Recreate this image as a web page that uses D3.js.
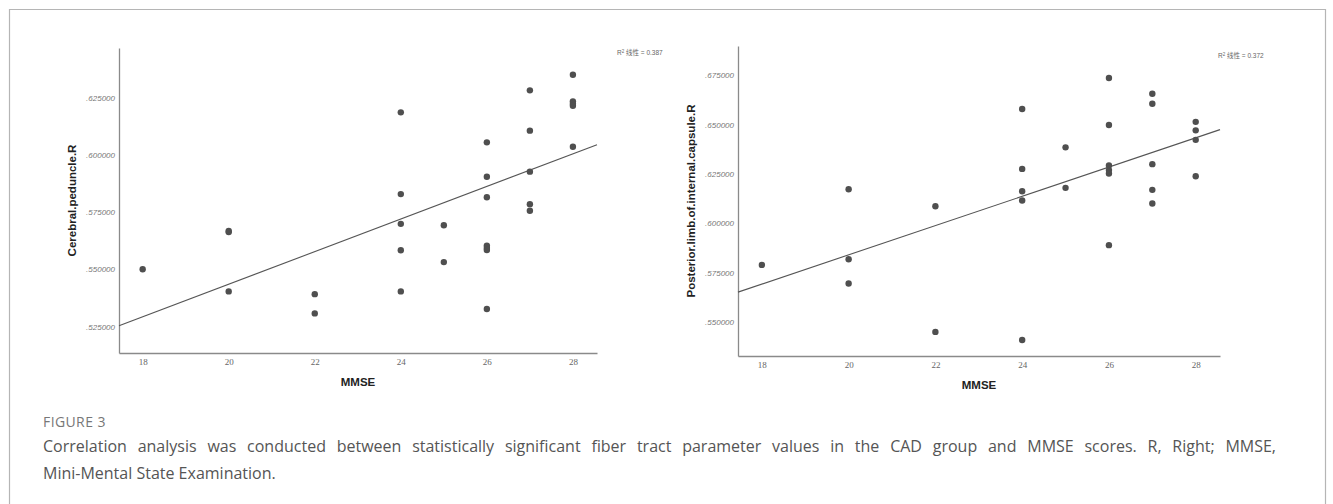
<!DOCTYPE html>
<html>
<head>
<meta charset="utf-8">
<script src="https://cdn.jsdelivr.net/npm/d3@7"></script>
<style>
  body { margin: 0; background: #fff; }
  svg { display: block; }
</style>
</head>
<body>
<div id="chart"></div>
<script>
// MMSE scores (x) and fibre tract values (y)
const mmseLeft = [18, 20, 20, 20, 22, 22, 24, 24, 24, 24, 24, 25, 25,
  26, 26, 26, 26, 26, 26, 26, 27, 27, 27, 27, 27, 28, 28, 28, 28, 28];
const cerebralPeduncleR = [0.5501, 0.5668, 0.5663, 0.5404, 0.5392, 0.5308,
  0.6186, 0.5829, 0.5699, 0.5584, 0.5404, 0.5693, 0.5532,
  0.6055, 0.5905, 0.5815, 0.5604, 0.5594, 0.5585, 0.5327,
  0.6282, 0.6106, 0.5927, 0.5785, 0.5756,
  0.6350, 0.6234, 0.6224, 0.6215, 0.6036];

const mmseRight = [18, 20, 20, 20, 22, 22, 24, 24, 24, 24, 24, 25, 25,
  26, 26, 26, 26, 26, 26, 27, 27, 27, 27, 27, 28, 28, 28, 28];
const posteriorLimbR = [0.5789, 0.6172, 0.5818, 0.5695, 0.6086, 0.5450,
  0.6578, 0.6275, 0.6162, 0.6115, 0.5409, 0.6384, 0.6179,
  0.6735, 0.6497, 0.6292, 0.6269, 0.6252, 0.5889,
  0.6655, 0.6605, 0.6299, 0.6169, 0.6100,
  0.6513, 0.6470, 0.6422, 0.6238];

const xTicks = [18, 20, 22, 24, 26, 28];
const yTicksLeft = [0.525, 0.55, 0.575, 0.6, 0.625];
const yTicksRight = [0.55, 0.575, 0.6, 0.625, 0.65, 0.675];
const rSquared = ['0.387', '0.372'];
const yTitles = ['Cerebral.peduncle.R', 'Posterior.limb.of.internal.capsule.R'];

const caption = [
  'Correlation analysis was conducted between statistically significant fiber tract parameter values in the CAD group and MMSE scores. R, Right; MMSE,',
  'Mini-Mental State Examination.'
];

const W = 1333, H = 504;
const svg = d3.select('#chart').append('svg')
  .attr('width', W).attr('height', H);

// figure frame (open at the bottom, cropped)
svg.append('path')
  .attr('d', `M9.5,${H} V9.5 H1325.5 V${H}`)
  .attr('fill', 'none').attr('stroke', '#b5b5b5').attr('stroke-width', 1.2);

const fmt = d => d.toFixed(6).replace(/^0/, '');

// least squares fit
function fit(xs, ys) {
  const mx = d3.mean(xs), my = d3.mean(ys);
  let sxy = 0, sxx = 0;
  xs.forEach((x, i) => { sxy += (x - mx) * (ys[i] - my); sxx += (x - mx) ** 2; });
  const b = sxy / sxx;
  return { a: my - b * mx, b };
}

const panels = [
  { xs: mmseLeft, ys: cerebralPeduncleR, yTicks: yTicksLeft, r2: rSquared[0], title: yTitles[0],
    xr: [119, 597], yr: [353, 48], yd: [0.5135, 0.6467],
    titleX: 76, mmseY: 386, legend: [617, 55] },
  { xs: mmseRight, ys: posteriorLimbR, yTicks: yTicksRight, r2: rSquared[1], title: yTitles[1],
    xr: [738, 1220], yr: [356, 46], yd: [0.5328, 0.6897],
    titleX: 695, mmseY: 389, legend: [1218, 58] }
];

panels.forEach(p => {
  const x = d3.scaleLinear().domain([17.45, 28.56]).range(p.xr);
  const y = d3.scaleLinear().domain(p.yd).range(p.yr);
  const g = svg.append('g');

  // axes
  const xAxis = g.append('g').attr('transform', `translate(0,${p.yr[0]})`)
    .call(d3.axisBottom(x).tickValues(xTicks).tickSize(0).tickPadding(6));
  xAxis.select('.domain').attr('stroke', '#8a8a8a').attr('stroke-width', 1.3);
  xAxis.selectAll('text')
    .attr('font-family', 'Liberation Serif').attr('font-size', 9).attr('fill', '#666');

  const yAxis = g.append('g').attr('transform', `translate(${p.xr[0]},0)`)
    .call(d3.axisLeft(y).tickValues(p.yTicks).tickFormat(fmt).tickSize(0).tickPadding(4));
  yAxis.select('.domain').attr('stroke', '#8a8a8a').attr('stroke-width', 1.3);
  yAxis.selectAll('text')
    .attr('font-family', 'Liberation Sans').attr('font-size', 8).attr('fill', '#777')
    .attr('font-style', 'italic');

  // fit line
  const f = fit(p.xs, p.ys);
  const [x0, x1] = x.domain();
  g.append('line')
    .attr('x1', x(x0)).attr('y1', y(f.a + f.b * x0))
    .attr('x2', x(x1)).attr('y2', y(f.a + f.b * x1))
    .attr('stroke', '#555').attr('stroke-width', 1.1);

  // points
  g.append('g').selectAll('circle')
    .data(p.xs.map((v, i) => [v, p.ys[i]]))
    .enter().append('circle')
    .attr('cx', d => x(d[0])).attr('cy', d => y(d[1]))
    .attr('r', 3.2).attr('fill', '#4f4f4f');

  // titles
  g.append('text')
    .attr('x', (p.xr[0] + p.xr[1]) / 2).attr('y', p.mmseY)
    .attr('text-anchor', 'middle')
    .attr('font-family', 'Liberation Sans').attr('font-weight', 'bold')
    .attr('font-size', 11.5).attr('fill', '#222')
    .text('MMSE');

  g.append('text')
    .attr('transform', `translate(${p.titleX},${(p.yr[0] + p.yr[1]) / 2}) rotate(-90)`)
    .attr('text-anchor', 'middle')
    .attr('font-family', 'Liberation Sans').attr('font-weight', 'bold')
    .attr('font-size', 11.5).attr('fill', '#222')
    .text(p.title);

  const lg = g.append('text')
    .attr('x', p.legend[0]).attr('y', p.legend[1])
    .attr('font-family', 'Liberation Sans, Noto Sans CJK SC').attr('font-size', 6.5).attr('fill', '#666');
  lg.append('tspan').text('R');
  lg.append('tspan').attr('dy', -2.5).attr('font-size', 4.5).text('2');
  lg.append('tspan').attr('dy', 2.5).text(' 线性 = ' + p.r2);
});

// caption
svg.append('text')
  .attr('x', 43).attr('y', 427)
  .attr('font-family', 'Open Sans').attr('font-size', 14)
  .attr('fill', '#777').attr('letter-spacing', 0.4)
  .text('FIGURE 3');

const capLines = svg.append('g').selectAll('text')
  .data(caption)
  .enter().append('text')
  .attr('x', 43).attr('y', (d, i) => 452 + i * 27)
  .attr('font-family', 'Open Sans').attr('font-size', 16)
  .attr('fill', '#555')
  .text(d => d);

// first line is justified to the text block width
capLines.filter((d, i) => i === 0).each(function (d) {
  const len = this.getComputedTextLength();
  const spaces = d.split(' ').length - 1;
  d3.select(this).attr('word-spacing', Math.max(0, (1276 - 43 - len) / spaces));
});
</script>
</body>
</html>
